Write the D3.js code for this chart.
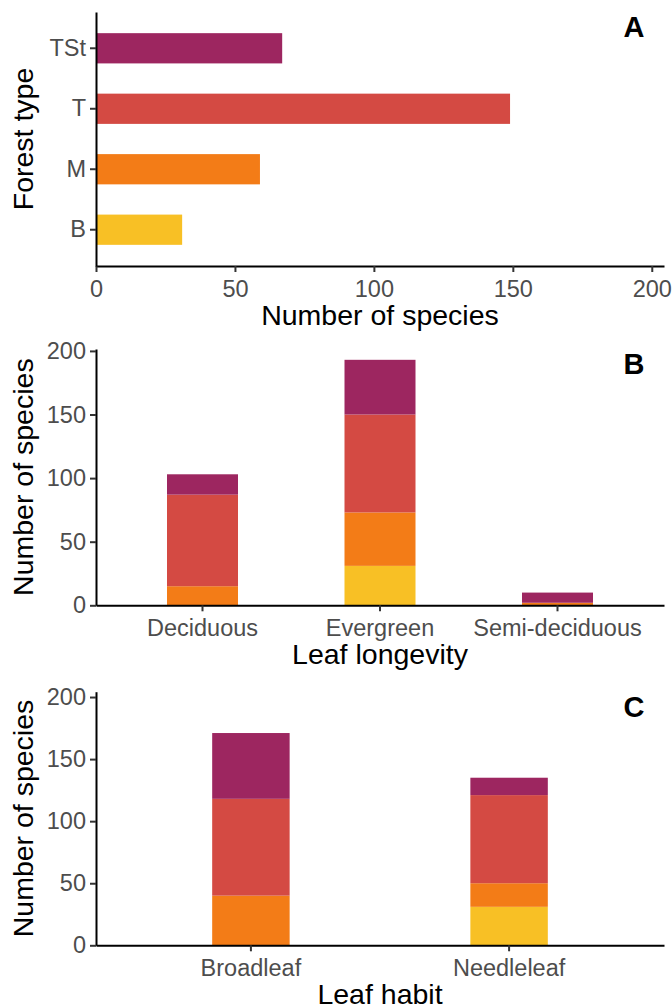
<!DOCTYPE html>
<html>
<head>
<meta charset="utf-8">
<script src="https://cdn.jsdelivr.net/npm/d3@7"></script>
<style>
  body { margin: 0; background: #fff; }
  svg { display: block; font-family: "Liberation Sans", Arial, sans-serif; }
  .tick text { fill: #4d4d4d; font-size: 23.5px; font-family: "Liberation Sans", Arial, sans-serif; }
  .tick line { stroke: #333; stroke-width: 2; }
  .domain { stroke: #000; stroke-width: 2; }
  .title { font-size: 28.5px; fill: #000; }
  .tag { font-size: 29px; font-weight: bold; fill: #000; }
</style>
</head>
<body>
<svg width="672" height="1006"></svg>
<script>
// forest types, bottom to top
const forestTypes = ['B', 'M', 'T', 'TSt'];
const typeColors = ['#f8c025', '#f37c17', '#d44a43', '#9d2660'];

// panel A: species per forest type
const speciesByType = [31, 59, 149, 67];

// panel B: leaf longevity
const longevity = ['Deciduous', 'Evergreen', 'Semi-deciduous'];
const longB = [0, 31, 0];
const longM = [15, 42, 2];
const longT = [72, 77, 0];
const longTSt = [16, 43, 8];

// panel C: leaf habit
const habit = ['Broadleaf', 'Needleleaf'];
const habitB = [0, 31];
const habitM = [40, 19];
const habitT = [78, 71];
const habitTSt = [53, 14];

const yTicks = [0, 50, 100, 150, 200];

const svg = d3.select('svg');
const left = 96, right = 664;
const color = d3.scaleOrdinal().domain(forestTypes).range(typeColors);

function styleAxis(g) {
  g.attr('font-family', null).attr('font-size', null);
  g.selectAll('.tick line').attr('stroke', '#333');
  g.select('.domain').attr('stroke', '#000');
}

// ---------- panel A ----------
{
  const top = 12, bottom = 266;
  const x = d3.scaleLinear().domain([0, 204.4]).range([left, right]);
  const y = d3.scaleBand()
    .domain(forestTypes.slice().reverse())
    .range([top, bottom])
    .paddingInner(0.5)
    .paddingOuter(0.35);

  svg.append('g')
    .selectAll('rect')
    .data(forestTypes.map((t, i) => ({ type: t, value: speciesByType[i] })))
    .join('rect')
    .attr('x', x(0))
    .attr('y', d => y(d.type))
    .attr('width', d => x(d.value) - x(0))
    .attr('height', y.bandwidth())
    .attr('fill', d => color(d.type));

  svg.append('g')
    .attr('transform', `translate(0,${bottom})`)
    .call(d3.axisBottom(x).tickValues(yTicks).tickSize(6).tickSizeOuter(0).tickPadding(8))
    .call(styleAxis);

  svg.append('g')
    .attr('transform', `translate(${left},0)`)
    .call(d3.axisLeft(y).tickSize(6).tickSizeOuter(0).tickPadding(4))
    .call(styleAxis);

  svg.append('text').attr('class', 'title')
    .attr('x', (left + right) / 2).attr('y', bottom + 59)
    .attr('text-anchor', 'middle').text('Number of species');
  svg.append('text').attr('class', 'title')
    .attr('transform', `translate(33,${(top + bottom) / 2}) rotate(-90)`)
    .attr('text-anchor', 'middle').text('Forest type');
  svg.append('text').attr('class', 'tag')
    .attr('x', 634).attr('y', top + 25)
    .attr('text-anchor', 'middle').text('A');
}

// ---------- stacked panels ----------
function stackedPanel(cats, series, top, bottom, yMax, padInner, padOuter, xTitle, tag) {
  const rows = cats.map((c, i) => {
    const r = { cat: c };
    forestTypes.forEach((t, k) => { r[t] = series[k][i]; });
    return r;
  });
  const stacked = d3.stack().keys(forestTypes)(rows);

  const x = d3.scaleBand().domain(cats).range([left, right])
    .paddingInner(padInner).paddingOuter(padOuter);
  const y = d3.scaleLinear().domain([0, yMax]).range([bottom, top]);

  svg.append('g')
    .selectAll('g')
    .data(stacked)
    .join('g')
    .attr('fill', d => color(d.key))
    .selectAll('rect')
    .data(d => d.filter(s => s[1] > s[0]))
    .join('rect')
    .attr('x', d => x(d.data.cat))
    .attr('y', d => y(d[1]))
    .attr('width', x.bandwidth())
    .attr('height', d => y(d[0]) - y(d[1]));

  svg.append('g')
    .attr('transform', `translate(0,${bottom})`)
    .call(d3.axisBottom(x).tickSize(6).tickSizeOuter(0).tickPadding(8))
    .call(styleAxis);

  svg.append('g')
    .attr('transform', `translate(${left},0)`)
    .call(d3.axisLeft(y).tickValues(yTicks).tickSize(6).tickSizeOuter(0).tickPadding(4))
    .call(styleAxis);

  svg.append('text').attr('class', 'title')
    .attr('x', (left + right) / 2).attr('y', bottom + 59)
    .attr('text-anchor', 'middle').text(xTitle);
  svg.append('text').attr('class', 'title')
    .attr('transform', `translate(33,${(top + bottom) / 2}) rotate(-90)`)
    .attr('text-anchor', 'middle').text('Number of species');
  svg.append('text').attr('class', 'tag')
    .attr('x', 634).attr('y', top + 25)
    .attr('text-anchor', 'middle').text(tag);
}

stackedPanel(longevity, [longB, longM, longT, longTSt], 349, 605.3, 201.5, 0.6, 0.4, 'Leaf longevity', 'B');
stackedPanel(habit, [habitB, habitM, habitT, habitTSt], 691.7, 945.3, 204.3, 0.7, 0.45, 'Leaf habit', 'C');
</script>
</body>
</html>
